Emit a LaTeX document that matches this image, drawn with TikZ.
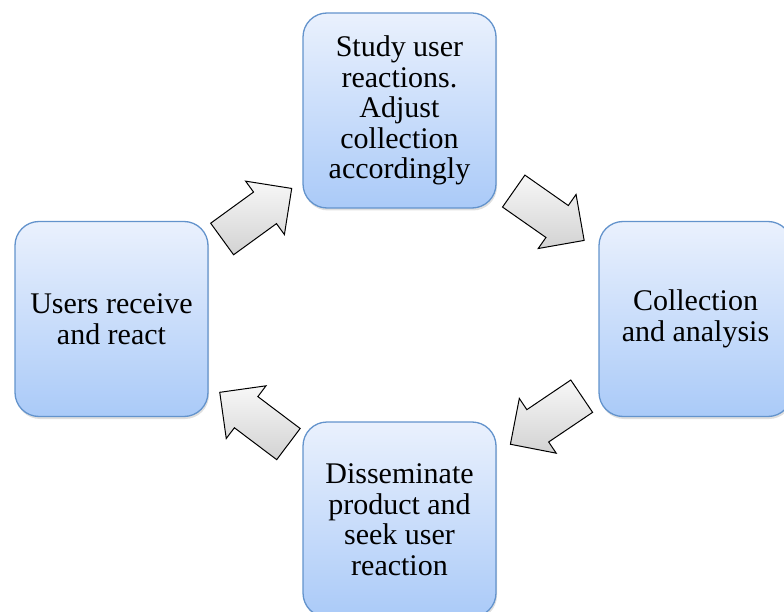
\documentclass[tikz,border=0pt]{standalone}
\usepackage{fontspec}
\setmainfont{Liberation Serif}
\usetikzlibrary{shapes.arrows,shadows,positioning,calc}
\definecolor{boxtop}{HTML}{EAF1FD}
\definecolor{boxbot}{HTML}{AACAF8}
\definecolor{boxline}{HTML}{6393CC}

\begin{document}
\begin{tikzpicture}[x=1pt, y=-1pt,
    stage/.style={draw=boxline, line width=1.3pt, rounded corners=24pt,
      top color=boxtop, bottom color=boxbot,
      minimum width=193pt, minimum height=195pt, align=center,
      font=\fontsize{30}{30.5}\selectfont,
      drop shadow={opacity=0.25, shadow xshift=1pt, shadow yshift=-2.5pt}},
    turn/.style={single arrow, draw=black, line width=1pt,
      minimum height=86pt, inner xsep=0pt, inner ysep=19pt,
      single arrow head extend=13.5pt, single arrow tip angle=90,
      top color=gray!6, bottom color=gray!35}]
  \useasboundingbox (0,0) rectangle (784,612);
  % the four stages
  \node[stage] (study) at (399.5,110.5) {Study user\\reactions.\\Adjust\\collection\\accordingly};
  \node[stage] (collect) at (695.5,319) {Collection\\and analysis};
  \node[stage] (spread) at (399.5,519.5) {Disseminate\\product and\\seek user\\reaction};
  \node[stage] (users) at (111.5,319) {Users receive\\and react};
  % block arrows between them
  \node[turn, rotate=36, xshift=-8pt] (a1) at ($(users.north east)!0.5!(study.south west)$) {};
  \node[turn, rotate=-35, xshift=-8pt] (a2) at ($(study.south east)!0.5!(collect.north west)$) {};
  \node[turn, rotate=214, xshift=-8pt] (a3) at ($(collect.south west)!0.5!(spread.north east)$) {};
  \node[turn, rotate=143, xshift=-8pt] (a4) at ($(spread.north west)!0.5!(users.south east)$) {};
\end{tikzpicture}
\end{document}
